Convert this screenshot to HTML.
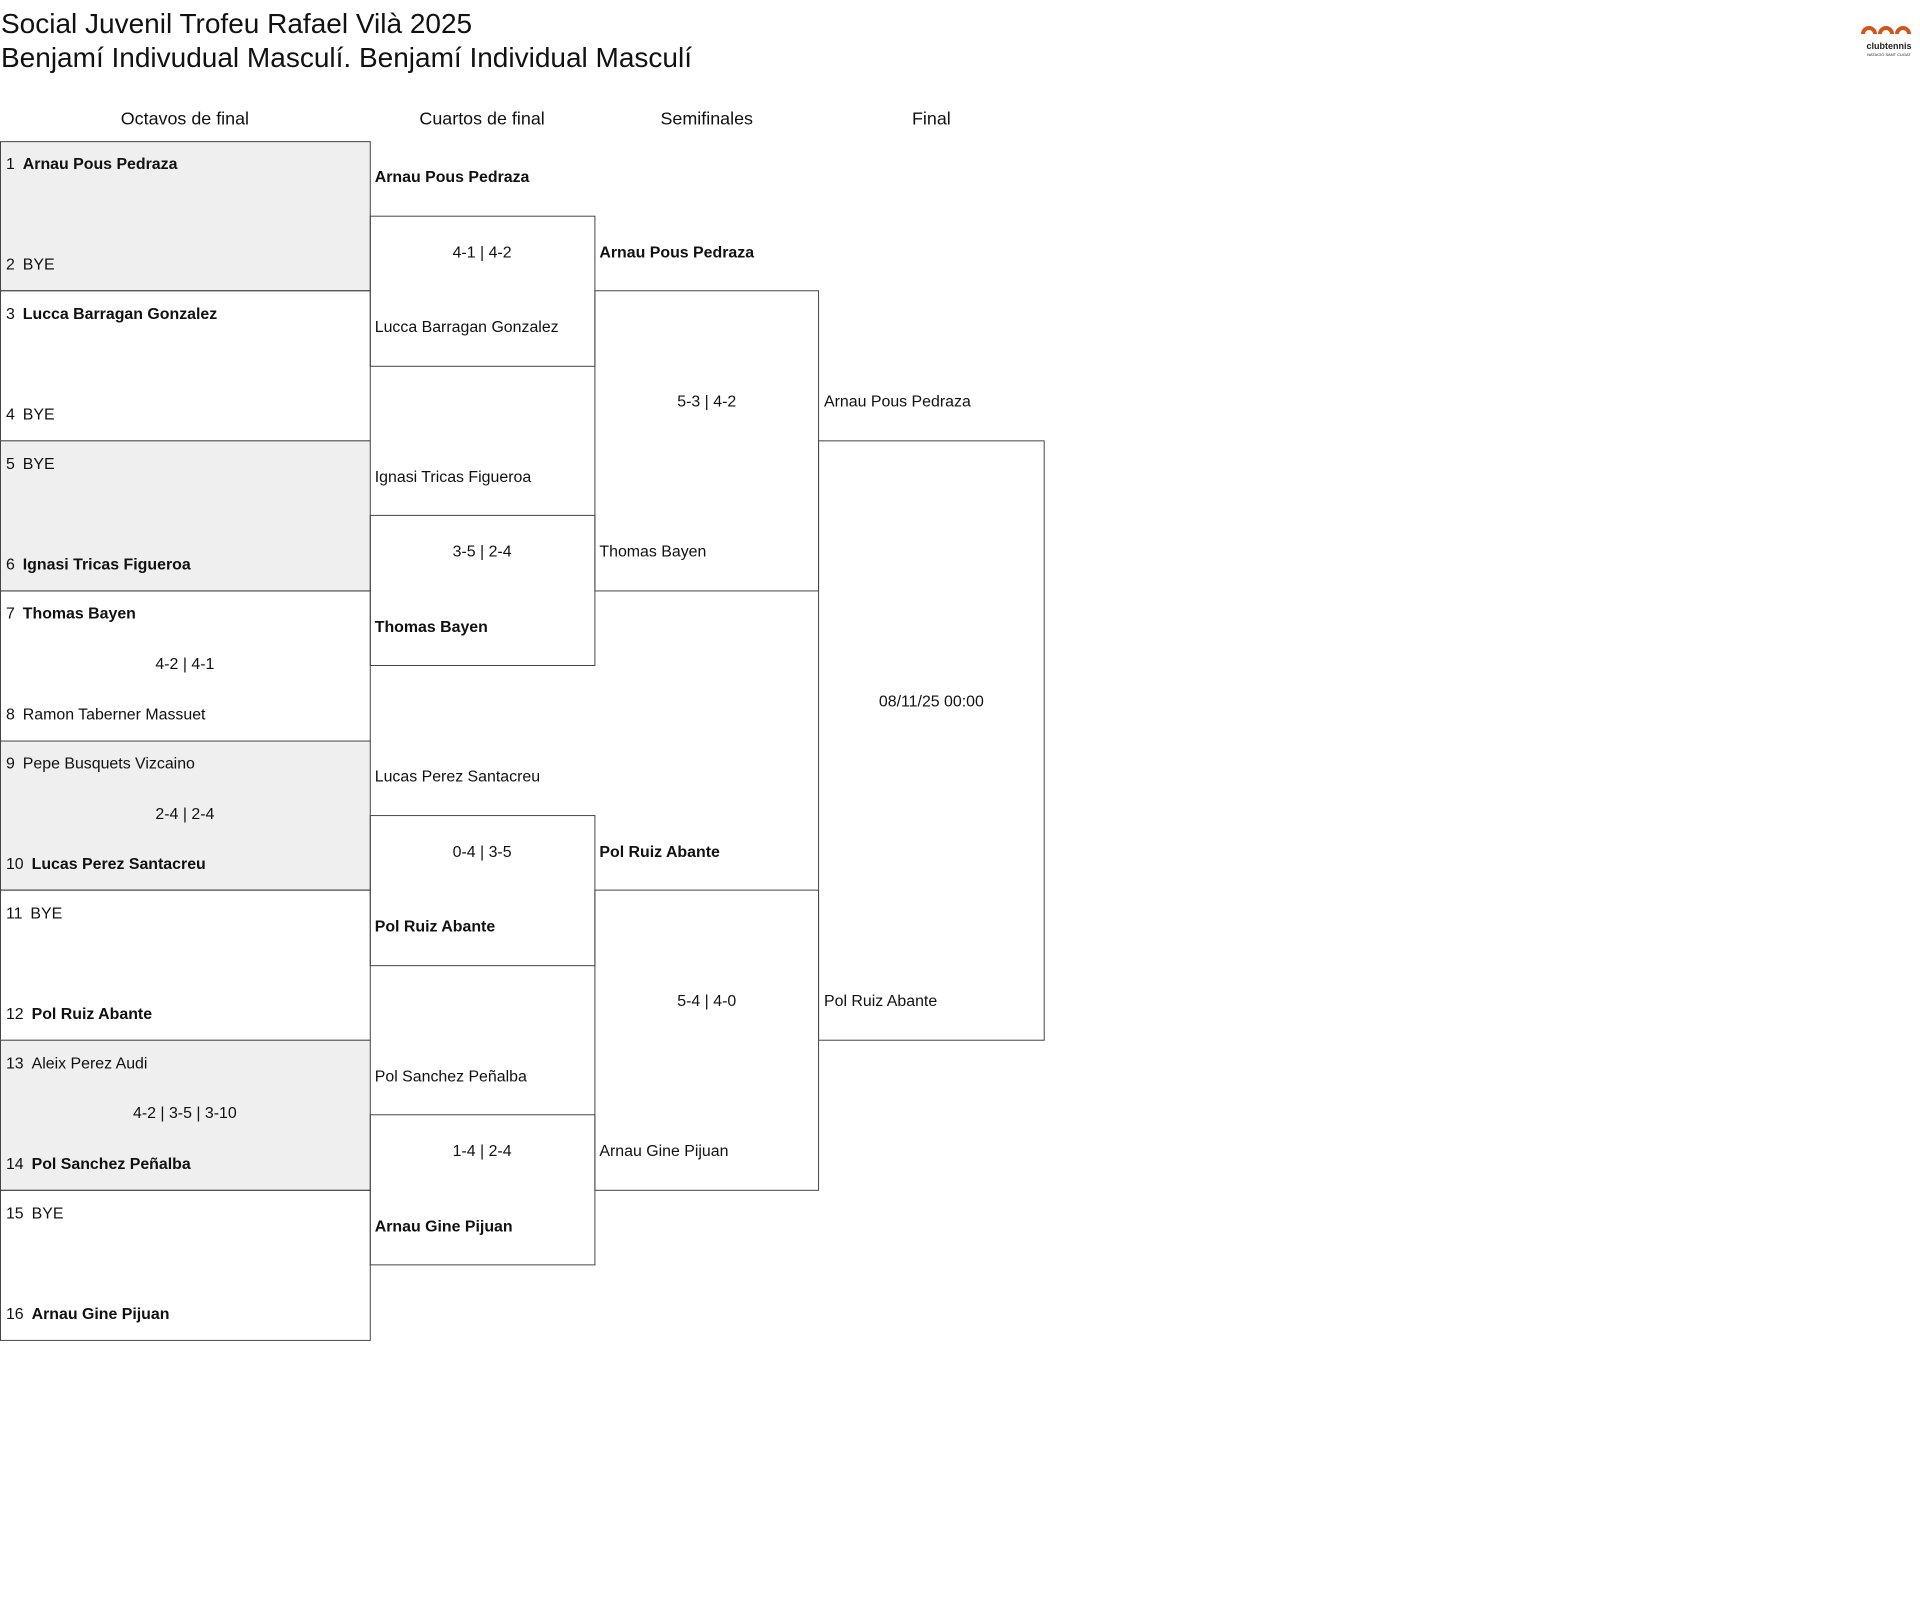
<!DOCTYPE html>
<html><head><meta charset="utf-8"><style>
body{margin:0;width:1920px;height:1624px;background:#fff;position:relative;font-family:"Liberation Sans",sans-serif;color:#111;overflow:hidden}
#w{position:absolute;left:0;top:0;width:1920px;height:1624px;transform:scale(0.994);transform-origin:0 0}
.b{position:absolute;border:1px solid #444;box-sizing:border-box}
.g{background:#efefef}
.t{position:absolute;font-size:16px;white-space:nowrap;transform:translateY(-50%);line-height:20px}
.c{transform:translate(-50%,-50%)}
.bo{font-weight:bold}
.h{position:absolute;font-size:18px;transform:translate(-50%,-50%);white-space:nowrap}
.n{display:inline-block;margin-right:8px}
</style></head><body>
<div style="position:absolute;left:1px;top:7px;font-size:28px;line-height:34px">Social Juvenil Trofeu Rafael Vilà 2025<br>Benjamí Indivudual Masculí. Benjamí Individual Masculí</div>
<svg style="position:absolute;left:1860px;top:22px" width="58" height="38" viewBox="0 0 58 38">
<path d="M3 12a6 6 0 1 1 12 0M20 12a6 6 0 1 1 12 0M37 12a6 6 0 1 1 12 0" stroke="#d4541c" stroke-width="4" fill="none"/>
<text x="29" y="27" font-size="9" text-anchor="middle" font-family="Liberation Sans" font-weight="bold" fill="#222">clubtennis</text>
<text x="29" y="34" font-size="4" text-anchor="middle" font-family="Liberation Sans" fill="#222">NATACIÓ SANT CUGAT</text>
</svg>
<div id="w">
<div class="h" style="left:186px;top:120px">Octavos de final</div>
<div class="h" style="left:485px;top:120px">Cuartos de final</div>
<div class="h" style="left:711px;top:120px">Semifinales</div>
<div class="h" style="left:937px;top:120px">Final</div>

<div class="b g" style="left:0;top:141.5px;width:373px;height:151.8px"></div>
<div class="b" style="left:0;top:292.3px;width:373px;height:151.8px"></div>
<div class="b g" style="left:0;top:443px;width:373px;height:151.8px"></div>
<div class="b" style="left:0;top:593.8px;width:373px;height:151.8px"></div>
<div class="b g" style="left:0;top:744.6px;width:373px;height:151.8px"></div>
<div class="b" style="left:0;top:895.4px;width:373px;height:151.8px"></div>
<div class="b g" style="left:0;top:1046.1px;width:373px;height:151.8px"></div>
<div class="b" style="left:0;top:1196.9px;width:373px;height:151.8px"></div>

<div class="b" style="left:372px;top:216.9px;width:227px;height:151.8px"></div>
<div class="b" style="left:372px;top:518.4px;width:227px;height:151.8px"></div>
<div class="b" style="left:372px;top:819.9px;width:227px;height:151.8px"></div>
<div class="b" style="left:372px;top:1121.4px;width:227px;height:151.8px"></div>

<div class="b" style="left:598px;top:292.3px;width:226px;height:302.5px"></div>
<div class="b" style="left:598px;top:895.3px;width:226px;height:302.5px"></div>

<div class="b" style="left:823px;top:443px;width:228px;height:604px"></div>

<div class="t" style="left:6px;top:166px"><span class="n">1</span><b>Arnau Pous Pedraza</b></div>
<div class="t" style="left:6px;top:267px"><span class="n">2</span>BYE</div>
<div class="t" style="left:6px;top:317px"><span class="n">3</span><b>Lucca Barragan Gonzalez</b></div>
<div class="t" style="left:6px;top:418px"><span class="n">4</span>BYE</div>
<div class="t" style="left:6px;top:468px"><span class="n">5</span>BYE</div>
<div class="t" style="left:6px;top:569px"><span class="n">6</span><b>Ignasi Tricas Figueroa</b></div>
<div class="t" style="left:6px;top:618px"><span class="n">7</span><b>Thomas Bayen</b></div>
<div class="t c" style="left:186px;top:669px">4-2 | 4-1</div>
<div class="t" style="left:6px;top:720px"><span class="n">8</span>Ramon Taberner Massuet</div>
<div class="t" style="left:6px;top:769px"><span class="n">9</span>Pepe Busquets Vizcaino</div>
<div class="t c" style="left:186px;top:820px">2-4 | 2-4</div>
<div class="t" style="left:6px;top:870px"><span class="n">10</span><b>Lucas Perez Santacreu</b></div>
<div class="t" style="left:6px;top:920px"><span class="n">11</span>BYE</div>
<div class="t" style="left:6px;top:1021px"><span class="n">12</span><b>Pol Ruiz Abante</b></div>
<div class="t" style="left:6px;top:1071px"><span class="n">13</span>Aleix Perez Audi</div>
<div class="t c" style="left:186px;top:1121px">4-2 | 3-5 | 3-10</div>
<div class="t" style="left:6px;top:1172px"><span class="n">14</span><b>Pol Sanchez Peñalba</b></div>
<div class="t" style="left:6px;top:1222px"><span class="n">15</span>BYE</div>
<div class="t" style="left:6px;top:1323px"><span class="n">16</span><b>Arnau Gine Pijuan</b></div>

<div class="t bo" style="left:377px;top:179.2px">Arnau Pous Pedraza</div>
<div class="t c" style="left:485px;top:254.6px">4-1 | 4-2</div>
<div class="t" style="left:377px;top:329.9px">Lucca Barragan Gonzalez</div>
<div class="t" style="left:377px;top:480.7px">Ignasi Tricas Figueroa</div>
<div class="t c" style="left:485px;top:556.1px">3-5 | 2-4</div>
<div class="t bo" style="left:377px;top:631.5px">Thomas Bayen</div>
<div class="t" style="left:377px;top:782.2px">Lucas Perez Santacreu</div>
<div class="t c" style="left:485px;top:857.6px">0-4 | 3-5</div>
<div class="t bo" style="left:377px;top:933px">Pol Ruiz Abante</div>
<div class="t" style="left:377px;top:1083.8px">Pol Sanchez Peñalba</div>
<div class="t c" style="left:485px;top:1159.1px">1-4 | 2-4</div>
<div class="t bo" style="left:377px;top:1234.5px">Arnau Gine Pijuan</div>

<div class="t bo" style="left:603px;top:254.6px">Arnau Pous Pedraza</div>
<div class="t c" style="left:711px;top:405.3px">5-3 | 4-2</div>
<div class="t" style="left:603px;top:556.1px">Thomas Bayen</div>
<div class="t bo" style="left:603px;top:857.6px">Pol Ruiz Abante</div>
<div class="t c" style="left:711px;top:1008.4px">5-4 | 4-0</div>
<div class="t" style="left:603px;top:1159.1px">Arnau Gine Pijuan</div>

<div class="t" style="left:829px;top:405.3px">Arnau Pous Pedraza</div>
<div class="t c" style="left:937px;top:706.9px">08/11/25 00:00</div>
<div class="t" style="left:829px;top:1008.4px">Pol Ruiz Abante</div>
</div>
</body></html>
